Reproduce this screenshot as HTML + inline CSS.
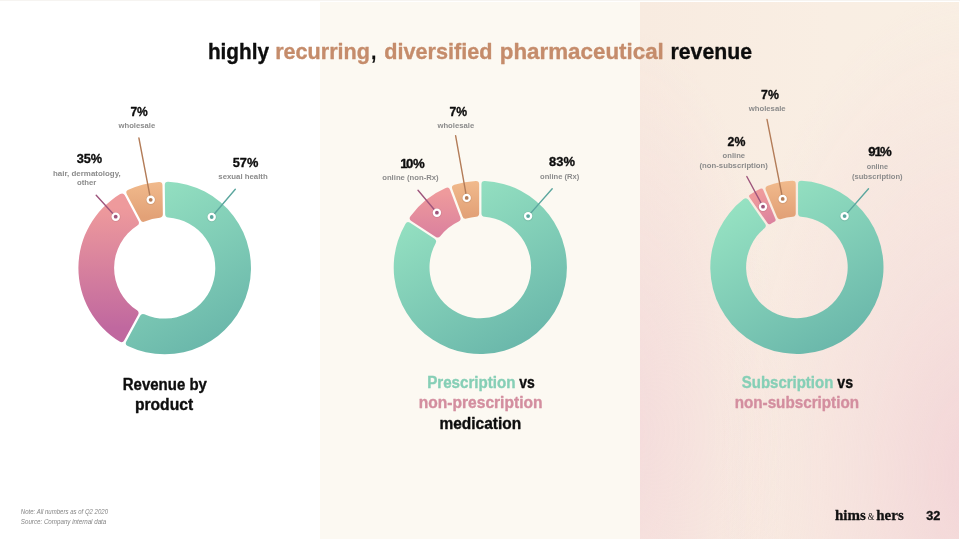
<!DOCTYPE html>
<html><head><meta charset="utf-8"><title>highly recurring, diversified pharmaceutical revenue</title>
<style>
html,body{margin:0;padding:0;background:#ffffff;}
body{width:960px;height:540px;position:relative;overflow:hidden;font-family:"Liberation Sans",sans-serif;}
.topline{position:absolute;left:0;top:0;width:960px;height:1px;background:#f6f4f1;}
.mid{position:absolute;left:320px;top:1.5px;width:320px;height:537.3px;background:#fcf9f2;}
.right{position:absolute;left:640px;top:1.5px;width:318.8px;height:537.3px;
  background:
    radial-gradient(ellipse 80% 90% at 105% 88%, rgba(240,203,211,0.72) 0%, rgba(241,206,213,0.38) 45%, rgba(243,214,217,0) 100%),
    radial-gradient(ellipse 50% 75% at -5% 80%, rgba(243,214,218,0.75) 0%, rgba(243,214,218,0) 100%),
    linear-gradient(90deg,#f8ebe0 0%,#f9eee3 60%,#f9efe3 100%);}
</style></head>
<body>
<div class="topline"></div>
<div class="mid"></div>
<div class="right"></div>
<svg width="960" height="540" viewBox="0 0 960 540" style="position:absolute;left:0;top:0;will-change:transform">
<defs>
<linearGradient id="g1" gradientUnits="userSpaceOnUse" x1="121.5" y1="192.9" x2="207.8" y2="343.1"><stop offset="0" stop-color="#96e2c2"/><stop offset="1" stop-color="#6bb8ab"/></linearGradient>
<linearGradient id="p1" gradientUnits="userSpaceOnUse" x1="140.6" y1="207.6" x2="140.1" y2="328.2"><stop offset="0" stop-color="#ee9a9c"/><stop offset="1" stop-color="#c0689f"/></linearGradient>
<linearGradient id="o1" gradientUnits="userSpaceOnUse" x1="154.7" y1="181.7" x2="154.7" y2="217.4"><stop offset="0" stop-color="#f1ba8c"/><stop offset="1" stop-color="#e2a177"/></linearGradient>
<linearGradient id="g2" gradientUnits="userSpaceOnUse" x1="437.0" y1="192.1" x2="523.6" y2="342.7"><stop offset="0" stop-color="#96e2c2"/><stop offset="1" stop-color="#6bb8ab"/></linearGradient>
<linearGradient id="p2" gradientUnits="userSpaceOnUse" x1="446.2" y1="193.1" x2="444.8" y2="251.8"><stop offset="0" stop-color="#ee9a9c"/><stop offset="1" stop-color="#d4789f"/></linearGradient>
<linearGradient id="o2" gradientUnits="userSpaceOnUse" x1="470.3" y1="180.79999999999998" x2="470.3" y2="216.59999999999997"><stop offset="0" stop-color="#f1ba8c"/><stop offset="1" stop-color="#e2a177"/></linearGradient>
<linearGradient id="g3" gradientUnits="userSpaceOnUse" x1="753.6" y1="192.0" x2="840.2" y2="342.7"><stop offset="0" stop-color="#96e2c2"/><stop offset="1" stop-color="#6bb8ab"/></linearGradient>
<linearGradient id="p3" gradientUnits="userSpaceOnUse" x1="760.4" y1="194.0" x2="779.6" y2="233.0"><stop offset="0" stop-color="#ee9a9c"/><stop offset="1" stop-color="#d4789f"/></linearGradient>
<linearGradient id="o3" gradientUnits="userSpaceOnUse" x1="786.9" y1="180.75000000000003" x2="786.9" y2="216.55"><stop offset="0" stop-color="#f1ba8c"/><stop offset="1" stop-color="#e2a177"/></linearGradient>
</defs>
<path d="M164.77 185.11 A3.3 3.3 0 0 1 168.20 181.77 A86.3 86.3 0 1 1 127.78 346.01 A3.3 3.3 0 0 1 126.29 341.45 L140.16 315.80 A3.3 3.3 0 0 1 144.39 314.35 A50.6 50.6 0 1 0 168.22 217.52 A3.3 3.3 0 0 1 165.15 214.27 Z" fill="url(#g1)"/>
<path d="M124.27 340.36 A3.3 3.3 0 0 1 119.64 341.60 A86.3 86.3 0 0 1 120.16 194.08 A3.3 3.3 0 0 1 124.77 195.36 L138.47 221.11 A3.3 3.3 0 0 1 137.34 225.44 A50.6 50.6 0 0 0 137.04 310.37 A3.3 3.3 0 0 1 138.14 314.70 Z" fill="url(#p1)"/>
<path d="M126.81 194.28 A3.3 3.3 0 0 1 128.33 189.74 A86.3 86.3 0 0 1 158.95 181.89 A3.3 3.3 0 0 1 162.47 185.14 L162.85 214.30 A3.3 3.3 0 0 1 159.86 217.63 A50.6 50.6 0 0 0 144.71 221.51 A3.3 3.3 0 0 1 140.50 220.03 Z" fill="url(#o1)"/>
<line x1="150.7" y1="199.8" x2="138.9" y2="138.0" stroke="#b37c58" stroke-width="1.4" stroke-linecap="round"/>
<circle cx="150.7" cy="200.10000000000002" r="5.0" fill="#000000" fill-opacity="0.07"/><circle cx="150.7" cy="199.8" r="4.2" fill="#ffffff"/><circle cx="150.7" cy="199.8" r="1.9" fill="#b37c58"/>
<line x1="115.7" y1="216.7" x2="96.2" y2="195.3" stroke="#9e557c" stroke-width="1.4" stroke-linecap="round"/>
<circle cx="115.7" cy="217.0" r="5.0" fill="#000000" fill-opacity="0.07"/><circle cx="115.7" cy="216.7" r="4.2" fill="#ffffff"/><circle cx="115.7" cy="216.7" r="1.9" fill="#9e557c"/>
<line x1="211.7" y1="217.0" x2="235.3" y2="189.3" stroke="#5ba69e" stroke-width="1.4" stroke-linecap="round"/>
<circle cx="211.7" cy="217.3" r="5.0" fill="#000000" fill-opacity="0.07"/><circle cx="211.7" cy="217.0" r="4.2" fill="#ffffff"/><circle cx="211.7" cy="217.0" r="1.9" fill="#5ba69e"/>
<path d="M481.45 184.22 A3.3 3.3 0 0 1 484.93 180.92 A86.6 86.6 0 1 1 405.41 223.92 A3.3 3.3 0 0 1 410.07 222.82 L434.55 238.84 A3.3 3.3 0 0 1 435.65 243.17 A50.8 50.8 0 1 0 484.48 216.77 A3.3 3.3 0 0 1 481.45 213.48 Z" fill="url(#g2)"/>
<path d="M411.33 220.89 A3.3 3.3 0 0 1 410.47 216.18 A86.6 86.6 0 0 1 445.68 188.02 A3.3 3.3 0 0 1 450.09 189.89 L460.34 217.30 A3.3 3.3 0 0 1 458.66 221.44 A50.8 50.8 0 0 0 440.22 236.18 A3.3 3.3 0 0 1 435.81 236.91 Z" fill="url(#p2)"/>
<path d="M452.25 189.08 A3.3 3.3 0 0 1 454.35 184.78 A86.6 86.6 0 0 1 475.67 180.92 A3.3 3.3 0 0 1 479.15 184.22 L479.15 213.48 A3.3 3.3 0 0 1 476.12 216.77 A50.8 50.8 0 0 0 466.48 218.51 A3.3 3.3 0 0 1 462.50 216.50 Z" fill="url(#o2)"/>
<line x1="466.7" y1="197.9" x2="455.6" y2="135.7" stroke="#b37c58" stroke-width="1.4" stroke-linecap="round"/>
<circle cx="466.7" cy="198.20000000000002" r="5.0" fill="#000000" fill-opacity="0.07"/><circle cx="466.7" cy="197.9" r="4.2" fill="#ffffff"/><circle cx="466.7" cy="197.9" r="1.9" fill="#b37c58"/>
<line x1="436.9" y1="212.7" x2="418.0" y2="190.2" stroke="#9e557c" stroke-width="1.4" stroke-linecap="round"/>
<circle cx="436.9" cy="213.0" r="5.0" fill="#000000" fill-opacity="0.07"/><circle cx="436.9" cy="212.7" r="4.2" fill="#ffffff"/><circle cx="436.9" cy="212.7" r="1.9" fill="#9e557c"/>
<line x1="528.1" y1="216.1" x2="552.2" y2="188.7" stroke="#5ba69e" stroke-width="1.4" stroke-linecap="round"/>
<circle cx="528.1" cy="216.4" r="5.0" fill="#000000" fill-opacity="0.07"/><circle cx="528.1" cy="216.1" r="4.2" fill="#ffffff"/><circle cx="528.1" cy="216.1" r="1.9" fill="#5ba69e"/>
<path d="M798.05 184.17 A3.3 3.3 0 0 1 801.53 180.87 A86.6 86.6 0 1 1 743.63 199.07 A3.3 3.3 0 0 1 748.37 199.79 L765.11 223.79 A3.3 3.3 0 0 1 764.51 228.22 A50.8 50.8 0 1 0 801.08 216.72 A3.3 3.3 0 0 1 798.05 213.43 Z" fill="url(#g3)"/>
<path d="M749.59 197.53 A2.2 2.2 0 0 1 750.21 194.41 A86.6 86.6 0 0 1 760.34 188.85 A2.2 2.2 0 0 1 763.29 189.99 L775.43 219.00 A2.2 2.2 0 0 1 774.37 221.82 A50.8 50.8 0 0 0 770.53 223.93 A2.2 2.2 0 0 1 767.58 223.31 Z" fill="url(#p3)"/>
<path d="M765.86 190.17 A3.3 3.3 0 0 1 767.80 185.79 A86.6 86.6 0 0 1 792.27 180.87 A3.3 3.3 0 0 1 795.75 184.17 L795.75 213.43 A3.3 3.3 0 0 1 792.72 216.72 A50.8 50.8 0 0 0 781.22 219.03 A3.3 3.3 0 0 1 777.15 217.17 Z" fill="url(#o3)"/>
<line x1="782.7" y1="198.9" x2="767.0" y2="119.4" stroke="#b37c58" stroke-width="1.4" stroke-linecap="round"/>
<circle cx="782.7" cy="199.20000000000002" r="5.0" fill="#000000" fill-opacity="0.07"/><circle cx="782.7" cy="198.9" r="4.2" fill="#ffffff"/><circle cx="782.7" cy="198.9" r="1.9" fill="#b37c58"/>
<line x1="763.0" y1="206.7" x2="746.8" y2="176.5" stroke="#9e557c" stroke-width="1.4" stroke-linecap="round"/>
<circle cx="763.0" cy="207.0" r="5.0" fill="#000000" fill-opacity="0.07"/><circle cx="763.0" cy="206.7" r="4.2" fill="#ffffff"/><circle cx="763.0" cy="206.7" r="1.9" fill="#9e557c"/>
<line x1="844.6" y1="216.1" x2="868.5" y2="188.7" stroke="#5ba69e" stroke-width="1.4" stroke-linecap="round"/>
<circle cx="844.6" cy="216.4" r="5.0" fill="#000000" fill-opacity="0.07"/><circle cx="844.6" cy="216.1" r="4.2" fill="#ffffff"/><circle cx="844.6" cy="216.1" r="1.9" fill="#5ba69e"/>
<text x="207.9" y="58.7" font-family="Liberation Sans" font-size="22.5" font-weight="700" font-style="normal" fill="#0d0d0d" stroke="#0d0d0d" stroke-width="0.35" stroke-linejoin="round" textLength="61.2" lengthAdjust="spacingAndGlyphs">highly</text>
<text x="275.2" y="58.7" font-family="Liberation Sans" font-size="22.5" font-weight="700" font-style="normal" fill="#c58c6b" stroke="#c58c6b" stroke-width="0.35" stroke-linejoin="round" textLength="94.8" lengthAdjust="spacingAndGlyphs">recurring</text>
<text x="371.3" y="58.7" font-family="Liberation Sans" font-size="22.5" font-weight="700" font-style="normal" fill="#0d0d0d" stroke="#0d0d0d" stroke-width="0.35" stroke-linejoin="round" textLength="5.0" lengthAdjust="spacingAndGlyphs">,</text>
<text x="384.3" y="58.7" font-family="Liberation Sans" font-size="22.5" font-weight="700" font-style="normal" fill="#c58c6b" stroke="#c58c6b" stroke-width="0.35" stroke-linejoin="round" textLength="108.2" lengthAdjust="spacingAndGlyphs">diversified</text>
<text x="499.8" y="58.7" font-family="Liberation Sans" font-size="22.5" font-weight="700" font-style="normal" fill="#c58c6b" stroke="#c58c6b" stroke-width="0.35" stroke-linejoin="round" textLength="164.0" lengthAdjust="spacingAndGlyphs">pharmaceutical</text>
<text x="670.5" y="58.7" font-family="Liberation Sans" font-size="22.5" font-weight="700" font-style="normal" fill="#0d0d0d" stroke="#0d0d0d" stroke-width="0.35" stroke-linejoin="round" textLength="81.6" lengthAdjust="spacingAndGlyphs">revenue</text>
<text x="130.4" y="115.9" font-family="Liberation Sans" font-size="13.2" font-weight="700" font-style="normal" fill="#0d0d0d" stroke="#0d0d0d" stroke-width="0.35" stroke-linejoin="round" textLength="17.4" lengthAdjust="spacingAndGlyphs">7%</text>
<text x="118.5" y="128.0" font-family="Liberation Sans" font-size="7.8" font-weight="700" font-style="normal" fill="#8b8b8b" textLength="36.7" lengthAdjust="spacingAndGlyphs">wholesale</text>
<text x="76.7" y="163.1" font-family="Liberation Sans" font-size="13.2" font-weight="700" font-style="normal" fill="#0d0d0d" stroke="#0d0d0d" stroke-width="0.35" stroke-linejoin="round" textLength="25.5" lengthAdjust="spacingAndGlyphs">35%</text>
<text x="53.0" y="176.1" font-family="Liberation Sans" font-size="7.8" font-weight="700" font-style="normal" fill="#8b8b8b" textLength="67.7" lengthAdjust="spacingAndGlyphs">hair, dermatology,</text>
<text x="77.0" y="185.0" font-family="Liberation Sans" font-size="7.8" font-weight="700" font-style="normal" fill="#8b8b8b" textLength="19.3" lengthAdjust="spacingAndGlyphs">other</text>
<text x="232.7" y="166.7" font-family="Liberation Sans" font-size="13.2" font-weight="700" font-style="normal" fill="#0d0d0d" stroke="#0d0d0d" stroke-width="0.35" stroke-linejoin="round" textLength="25.6" lengthAdjust="spacingAndGlyphs">57%</text>
<text x="218.3" y="179.3" font-family="Liberation Sans" font-size="7.8" font-weight="700" font-style="normal" fill="#8b8b8b" textLength="49.4" lengthAdjust="spacingAndGlyphs">sexual health</text>
<text x="449.6" y="116.3" font-family="Liberation Sans" font-size="13.2" font-weight="700" font-style="normal" fill="#0d0d0d" stroke="#0d0d0d" stroke-width="0.35" stroke-linejoin="round" textLength="17.6" lengthAdjust="spacingAndGlyphs">7%</text>
<text x="437.4" y="127.7" font-family="Liberation Sans" font-size="7.8" font-weight="700" font-style="normal" fill="#8b8b8b" textLength="36.8" lengthAdjust="spacingAndGlyphs">wholesale</text>
<text x="400.3 406.1 413.0" y="167.9" font-family="Liberation Sans" font-size="13.2" font-weight="700" fill="#0d0d0d" stroke="#0d0d0d" stroke-width="0.35" stroke-linejoin="round">10%</text>
<text x="382.2" y="180.0" font-family="Liberation Sans" font-size="7.8" font-weight="700" font-style="normal" fill="#8b8b8b" textLength="56.5" lengthAdjust="spacingAndGlyphs">online (non-Rx)</text>
<text x="549.1" y="165.6" font-family="Liberation Sans" font-size="13.2" font-weight="700" font-style="normal" fill="#0d0d0d" stroke="#0d0d0d" stroke-width="0.35" stroke-linejoin="round" textLength="25.9" lengthAdjust="spacingAndGlyphs">83%</text>
<text x="540.0" y="178.5" font-family="Liberation Sans" font-size="7.8" font-weight="700" font-style="normal" fill="#8b8b8b" textLength="39.3" lengthAdjust="spacingAndGlyphs">online (Rx)</text>
<text x="761.1" y="98.7" font-family="Liberation Sans" font-size="13.2" font-weight="700" font-style="normal" fill="#0d0d0d" stroke="#0d0d0d" stroke-width="0.35" stroke-linejoin="round" textLength="17.8" lengthAdjust="spacingAndGlyphs">7%</text>
<text x="748.7" y="111.1" font-family="Liberation Sans" font-size="7.8" font-weight="700" font-style="normal" fill="#8b8b8b" textLength="37.0" lengthAdjust="spacingAndGlyphs">wholesale</text>
<text x="727.6" y="145.8" font-family="Liberation Sans" font-size="13.2" font-weight="700" font-style="normal" fill="#0d0d0d" stroke="#0d0d0d" stroke-width="0.35" stroke-linejoin="round" textLength="17.8" lengthAdjust="spacingAndGlyphs">2%</text>
<text x="722.6" y="157.9" font-family="Liberation Sans" font-size="7.8" font-weight="700" font-style="normal" fill="#8b8b8b" textLength="22.5" lengthAdjust="spacingAndGlyphs">online</text>
<text x="699.5" y="168.0" font-family="Liberation Sans" font-size="7.8" font-weight="700" font-style="normal" fill="#8b8b8b" textLength="68.4" lengthAdjust="spacingAndGlyphs">(non-subscription)</text>
<text x="868.2 874.5 879.9" y="156.3" font-family="Liberation Sans" font-size="13.2" font-weight="700" fill="#0d0d0d" stroke="#0d0d0d" stroke-width="0.35" stroke-linejoin="round">91%</text>
<text x="866.7" y="168.9" font-family="Liberation Sans" font-size="7.8" font-weight="700" font-style="normal" fill="#8b8b8b" textLength="21.4" lengthAdjust="spacingAndGlyphs">online</text>
<text x="851.9" y="178.5" font-family="Liberation Sans" font-size="7.8" font-weight="700" font-style="normal" fill="#8b8b8b" textLength="50.7" lengthAdjust="spacingAndGlyphs">(subscription)</text>
<text x="122.8" y="389.6" font-family="Liberation Sans" font-size="15.8" font-weight="700" font-style="normal" fill="#0d0d0d" stroke="#0d0d0d" stroke-width="0.35" stroke-linejoin="round" textLength="84.1" lengthAdjust="spacingAndGlyphs">Revenue by</text>
<text x="134.9" y="409.7" font-family="Liberation Sans" font-size="15.8" font-weight="700" font-style="normal" fill="#0d0d0d" stroke="#0d0d0d" stroke-width="0.35" stroke-linejoin="round" textLength="58.2" lengthAdjust="spacingAndGlyphs">product</text>
<text x="427.2" y="388.0" font-family="Liberation Sans" font-size="15.8" font-weight="700" font-style="normal" fill="#86cfb6" stroke="#86cfb6" stroke-width="0.35" stroke-linejoin="round" textLength="88.3" lengthAdjust="spacingAndGlyphs">Prescription</text>
<text x="519.2" y="388.0" font-family="Liberation Sans" font-size="15.8" font-weight="700" font-style="normal" fill="#0d0d0d" stroke="#0d0d0d" stroke-width="0.35" stroke-linejoin="round" textLength="15.5" lengthAdjust="spacingAndGlyphs">vs</text>
<text x="418.8" y="408.3" font-family="Liberation Sans" font-size="15.8" font-weight="700" font-style="normal" fill="#d38e9f" stroke="#d38e9f" stroke-width="0.35" stroke-linejoin="round" textLength="123.7" lengthAdjust="spacingAndGlyphs">non-prescription</text>
<text x="439.5" y="428.7" font-family="Liberation Sans" font-size="15.8" font-weight="700" font-style="normal" fill="#0d0d0d" stroke="#0d0d0d" stroke-width="0.35" stroke-linejoin="round" textLength="81.7" lengthAdjust="spacingAndGlyphs">medication</text>
<text x="741.8" y="388.0" font-family="Liberation Sans" font-size="15.8" font-weight="700" font-style="normal" fill="#86cfb6" stroke="#86cfb6" stroke-width="0.35" stroke-linejoin="round" textLength="91.5" lengthAdjust="spacingAndGlyphs">Subscription</text>
<text x="837.3" y="388.0" font-family="Liberation Sans" font-size="15.8" font-weight="700" font-style="normal" fill="#0d0d0d" stroke="#0d0d0d" stroke-width="0.35" stroke-linejoin="round" textLength="15.7" lengthAdjust="spacingAndGlyphs">vs</text>
<text x="734.7" y="408.3" font-family="Liberation Sans" font-size="15.8" font-weight="700" font-style="normal" fill="#d38e9f" stroke="#d38e9f" stroke-width="0.35" stroke-linejoin="round" textLength="124.3" lengthAdjust="spacingAndGlyphs">non-subscription</text>
<text x="20.8" y="514.0" font-family="Liberation Sans" font-size="6.3" font-weight="400" font-style="italic" fill="#858585" textLength="87.2" lengthAdjust="spacingAndGlyphs">Note: All numbers as of Q2 2020</text>
<text x="20.8" y="523.5" font-family="Liberation Sans" font-size="6.3" font-weight="400" font-style="italic" fill="#858585" textLength="85.5" lengthAdjust="spacingAndGlyphs">Source: Company internal data</text>
<text x="835.0" y="519.7" font-family="Liberation Serif" font-size="15" font-weight="700" font-style="normal" fill="#111" stroke="#111" stroke-width="0.3" stroke-linejoin="round" textLength="30.8" lengthAdjust="spacingAndGlyphs">hims</text>
<text x="867.8" y="519.7" font-family="Liberation Serif" font-size="10.5" font-weight="400" font-style="normal" fill="#111" textLength="6.6" lengthAdjust="spacingAndGlyphs">&amp;</text>
<text x="876.3" y="519.7" font-family="Liberation Serif" font-size="15" font-weight="700" font-style="normal" fill="#111" stroke="#111" stroke-width="0.3" stroke-linejoin="round" textLength="27.4" lengthAdjust="spacingAndGlyphs">hers</text>
<text x="926.2" y="519.7" font-family="Liberation Sans" font-size="12.5" font-weight="700" font-style="normal" fill="#111" stroke="#111" stroke-width="0.35" stroke-linejoin="round" textLength="14.1" lengthAdjust="spacingAndGlyphs">32</text>
</svg>
</body></html>
